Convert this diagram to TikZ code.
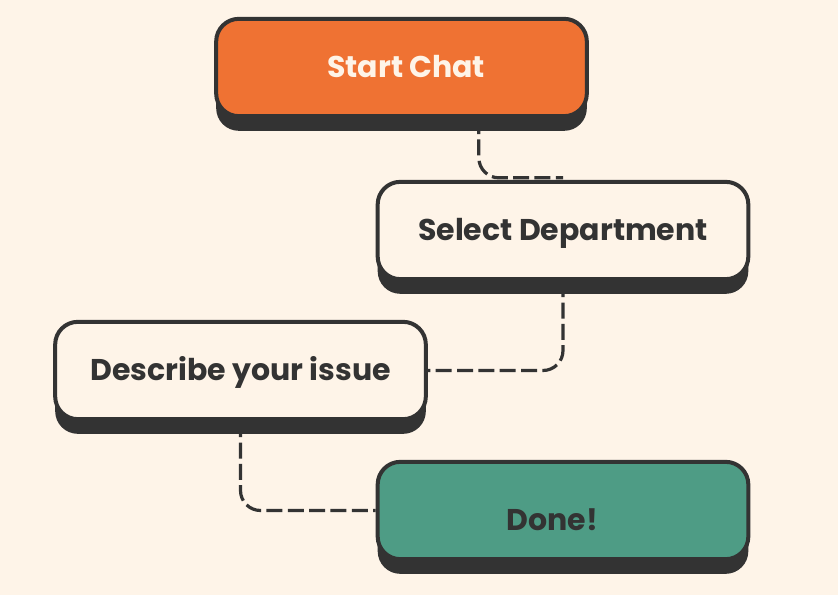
\documentclass[tikz,border=0pt]{standalone}
\usepackage{fontspec}
\setmainfont{Poppins}
\usetikzlibrary{shadows}
\definecolor{cream}{HTML}{FEF4E8}
\definecolor{ink}{HTML}{333333}
\definecolor{chatorange}{HTML}{EF7233}
\definecolor{doneteal}{HTML}{4E9C85}
\begin{document}
\begin{tikzpicture}[x=0.75pt,y=-0.75pt,
	box/.style={rectangle,rounded corners=17pt,draw=ink,line width=3pt,fill=cream,text=ink,
		minimum width=278pt,minimum height=73pt,font=\bfseries\fontsize{22.5}{26}\selectfont,
		text height=21pt,text depth=6pt,
		general shadow={fill=ink,shadow yshift=-11pt}},
	link/.style={draw=ink,line width=2.4pt,dash pattern=on 12pt off 4pt,rounded corners=15pt}]
	\fill[cream] (0,0) rectangle (838,595);
	\node[box,fill=chatorange,text=cream] (start) at (401.5,67.5) {Start Chat\hspace*{-7pt}};
	\node[box] (dept) at (563,230.5) {Select Department};
	\node[box] (issue) at (240.5,370.5) {Describe your issue};
	\node[box,fill=doneteal,text height=36pt,text depth=6.2pt] (done) at (563,510.5) {Done!\hspace*{16pt}};
	\draw[link] ([xshift=58pt]start.south) |- ([yshift=1.5pt]dept.north);
	\draw[link] (dept.south) |- (issue.east);
	\draw[link] (issue.south) |- (done.west);
\end{tikzpicture}
\end{document}
